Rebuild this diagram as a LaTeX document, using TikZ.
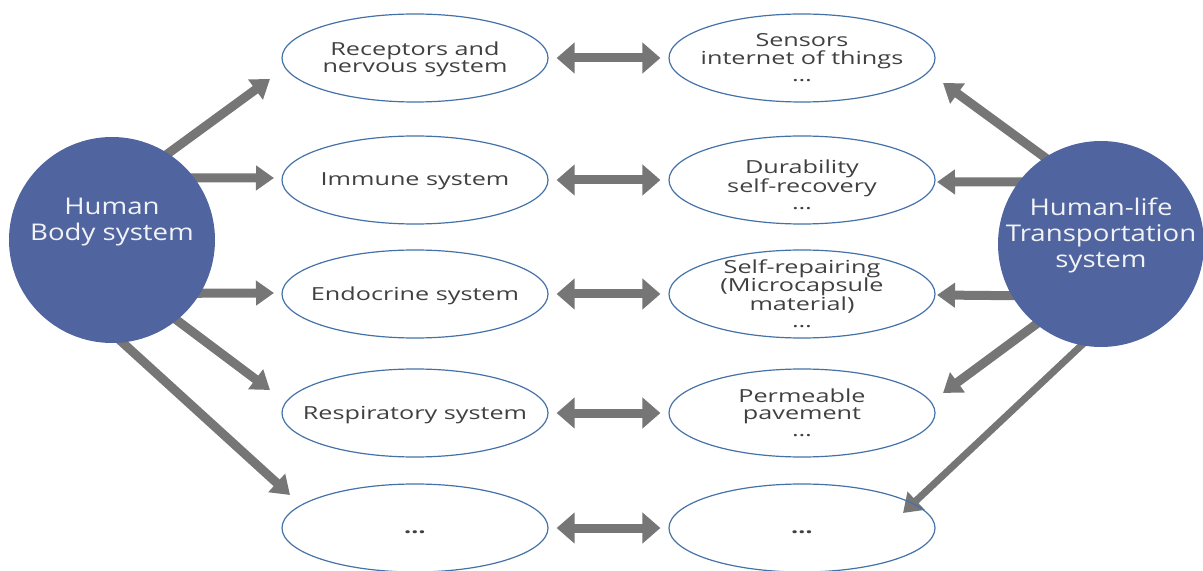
\documentclass[tikz,border=0pt]{standalone}
\usepackage{fontspec}
\usetikzlibrary{arrows.meta,shapes.geometric,backgrounds}
\newfontfamily\ellfont{Open Sans}[FakeStretch=1.4]
\newfontfamily\circfont{Open Sans}[FakeStretch=1.2]
\definecolor{bodyblue}{RGB}{80,100,160}
\definecolor{rimblue}{RGB}{68,114,168}
\definecolor{arrowgray}{RGB}{118,118,118}
\definecolor{textgray}{RGB}{64,64,64}
\newcommand\celltext[2][-3.25pt]{\makebox[0pt]{\raisebox{#1}[0pt][0pt]{\begin{tabular}{@{}c@{}}#2\end{tabular}}}}

\begin{document}
\begin{tikzpicture}[%
  x=0.5pt, y=-0.5pt,
  system/.style={circle, fill=bodyblue, minimum size=103pt, inner sep=0pt,
    text=white!92!bodyblue, font=\circfont\fontsize{11.5}{13}\selectfont},
  organ/.style={ellipse, draw=rimblue, line width=0.6pt, minimum width=133pt,
    minimum height=44pt, inner sep=0pt, text=textgray,
    font=\ellfont\fontsize{9}{8.5}\selectfont},
  fan/.style={draw=arrowgray, line width=4.5pt, shorten <=-8pt,
    -{Triangle[length=9pt,width=12pt]}},
  link/.style={draw=arrowgray, line width=4.5pt, shorten <=4pt, shorten >=4pt,
    {Triangle[length=9pt,width=15pt]}-{Triangle[length=9pt,width=15pt]}}]
\useasboundingbox (0,0) rectangle (1203,571);

\node[system] (body) at (112,240) {\celltext[6pt]{Human\\Body system}};
\node[system] (life) at (1101,244) {\celltext[0.8pt]{Human-life\\Transportation\\system}};

\node[organ] (rec)  at (415,58)  {\celltext{Receptors and\\nervous system}};
\node[organ] (imm)  at (415,180) {\celltext{Immune system}};
\node[organ] (endo) at (415,294) {\celltext{Endocrine system}};
\node[organ] (resp) at (415,413) {\celltext{Respiratory system}};
\node[organ] (more) at (415,528) {\celltext{\textbf{…}}};

\node[organ] (sens) at (802,58)  {\celltext{Sensors\\internet of things\\…}};
\node[organ] (dur)  at (802,180) {\celltext[-5.75pt]{Durability\\self-recovery\\…}};
\node[organ] (rep)  at (802,294) {\celltext{Self-repairing\\(Microcapsule\\material)\\…}};
\node[organ] (perm) at (802,413) {\celltext{Permeable\\pavement\\…}};
\node[organ] (etc)  at (802,528) {\celltext{\textbf{…}}};

\coordinate (rec-in)  at (270,79);
\coordinate (imm-in)  at (274,178);
\coordinate (endo-in) at (274,293);
\coordinate (resp-in) at (270,390);
\coordinate (more-in) at (290,495);
\coordinate (sens-in) at (943,83);
\coordinate (dur-in)  at (937,182);
\coordinate (rep-in)  at (937,295);
\coordinate (perm-in) at (943,393);
\coordinate (etc-in)  at (903,513);

\begin{scope}[on background layer]
\draw[fan] (body.57)  -- (rec-in);
\draw[fan] (body.37)  -- (imm-in);
\draw[fan] (body.-31) -- (endo-in);
\draw[fan] (body.-51) -- (resp-in);
\draw[fan] (body.-84) -- (more-in);
\draw[fan] (life.123) -- (sens-in);
\draw[fan] (life.143) -- (dur-in);
\draw[fan] (life.210) -- (rep-in);
\draw[fan] (life.231) -- (perm-in);
\draw[fan, line width=3.5pt] (life.259) -- (etc-in);
\end{scope}

\draw[link] (rec)  -- (sens);
\draw[link] (imm)  -- (dur);
\draw[link] (endo) -- (rep);
\draw[link] (resp) -- (perm);
\draw[link] (more) -- (etc);
\end{tikzpicture}
\end{document}
